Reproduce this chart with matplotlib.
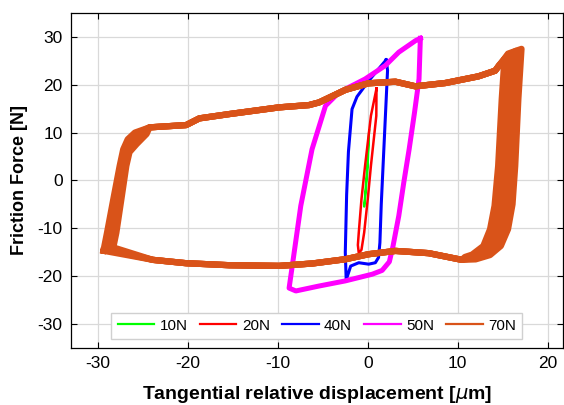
import matplotlib
matplotlib.use("Agg")
import matplotlib.pyplot as plt

plt.rcParams['font.family'] = ['Liberation Sans', 'DejaVu Sans']
plt.rcParams['axes.unicode_minus'] = False

# 10N loop
x_10 = [0.15, 0.0, -0.25, -0.4, -0.3, -0.05, 0.15]
y_10 = [10.5, 3.0, -3.0, -5.5, -3.0, 3.0, 10.5]

# 20N loop
x_20 = [0.97, 0.95, 0.35, 0.0, -0.4, -0.7, -1.0, -1.1, -1.0, -0.7, -0.3, 0.35, 0.97]
y_20 = [19.2, 13.5, 3.05, -3.9, -10.9, -14.5, -15.2, -13.5, -10.9, -3.9, 3.05, 13.5, 19.2]

# 40N loop
x_40 = [2.05, 2.2, 2.0, 1.75, 1.5, 1.35, 1.2, 0.84, 0.1, -1.0, -1.9, -2.4,
        -2.5, -2.35, -2.15, -1.75, -1.2, 0.1, 1.2, 2.05]
y_40 = [25.2, 23.0, 15.0, 5.0, -5.0, -13.0, -16.1, -17.2, -17.5, -17.2, -17.9, -20.8,
        -15.0, -3.0, 6.0, 14.9, 17.5, 20.8, 23.3, 25.2]

# 50N loop
x_50 = [5.85, 5.7, 5.2, 4.6, 4.0, 3.45, 2.8, 2.4, 1.6, 0.5, -2.5, -5.5, -8.0, -8.75,
        -8.4, -7.45, -6.2, -4.7, -3.2, -0.3, 1.95, 3.45, 5.3, 5.85]
y_50 = [29.7, 21.2, 14.2, 6.5, -0.5, -7.4, -13.8, -17.0, -18.8, -19.6, -21.0, -22.1, -23.1, -22.5,
        -17.9, -5.3, 6.5, 15.6, 18.4, 21.2, 24.0, 26.8, 29.2, 29.7]

# 70N: shared top and bottom edges, four cycles with their own sides
top_x = [-24.27, -20.2, -18.73, -15.4, -9.86, -6.53, -5.42, -2.46, 0.09, 3.08, 5.3, 8.63, 12.32, 14.17]
top_y = [11.09, 11.57, 12.97, 13.87, 15.27, 15.75, 16.3, 18.95, 20.3, 20.63, 19.67, 20.36, 21.76, 22.93]
bot_x = [10.47, 6.77, 3.08, 0.09, -2.46, -6.16, -9.86, -15.4, -20.2, -23.9]
bot_y = [-16.6, -15.2, -14.73, -15.42, -16.46, -17.36, -17.86, -17.72, -17.3, -16.6]

left_x = [
    [-29.4, -29.0, -28.3, -27.6, -27.2, -26.7, -25.9],
    [-29.0, -28.7, -28.0, -27.35, -26.95, -26.4, -25.5],
    [-28.7, -28.3, -27.7, -27.1, -26.7, -26.1, -25.0],
    [-28.3, -27.96, -27.4, -26.85, -26.5, -25.7, -24.6],
]
left_y = [
    [-14.7, -10.9, -3.9, 3.0, 6.5, 8.6, 10.0],
    [-14.5, -10.9, -3.9, 3.0, 6.3, 8.4, 10.0],
    [-14.3, -10.9, -3.9, 3.0, 6.1, 8.1, 9.9],
    [-14.0, -10.9, -3.9, 3.05, 5.9, 7.6, 9.7],
]
right_x = [
    [14.7, 15.6, 17.1, 16.75, 16.4, 16.1, 15.6, 14.8, 13.6, 12.0],
    [14.7, 15.6, 16.5, 16.2, 15.8, 15.5, 15.0, 14.2, 13.0, 11.5],
    [14.6, 15.3, 15.8, 15.6, 15.1, 14.8, 14.3, 13.5, 12.3, 11.0],
    [14.6, 15.1, 15.2, 14.9, 14.5, 14.1, 13.6, 12.85, 11.6, 10.8],
]
right_y = [
    [24.2, 26.5, 27.5, 17.0, 3.0, -5.0, -10.2, -13.7, -15.6, -16.5],
    [24.2, 26.3, 27.1, 17.0, 3.0, -5.0, -10.2, -13.7, -15.6, -16.3],
    [24.1, 25.6, 26.4, 17.0, 3.0, -5.0, -10.2, -13.7, -15.6, -16.2],
    [24.0, 25.0, 25.4, 17.0, 3.0, -5.3, -10.2, -13.7, -15.5, -16.0],
]

orange = '#d95319'

fig = plt.figure(figsize=(5.64, 4.05), dpi=100)
ax = fig.add_axes([0.126, 0.141, 0.872, 0.827])

ax.plot(x_10, y_10, color='#00ff00', lw=1.5, label='10N')
ax.plot(x_20, y_20, color='#ff0000', lw=1.8, label='20N')
ax.plot(x_40, y_40, color='#0000ff', lw=2.2, label='40N')
ax.plot(x_50, y_50, color='#ff00ff', lw=3.6, label='50N')
for i in range(4):
    cx = left_x[i] + top_x + right_x[i] + bot_x + left_x[i][:1]
    cy = left_y[i] + top_y + right_y[i] + bot_y + left_y[i][:1]
    ax.plot(cx, cy, color=orange, lw=4.5, solid_joinstyle='round',
            label='70N' if i == 0 else None)
# the overlapping cycles merge into solid bands on both sides
ax.fill(right_x[0] + right_x[3][::-1], right_y[0] + right_y[3][::-1], color=orange, lw=0)
ax.fill(left_x[0] + left_x[3][::-1], left_y[0] + left_y[3][::-1], color=orange, lw=0)

ax.set_xlim(-33, 21.7)
ax.set_ylim(-35, 35)
ax.set_xticks([-30, -20, -10, 0, 10, 20])
ax.set_yticks([-30, -20, -10, 0, 10, 20, 30])
ax.grid(True, color='#d9d9d9', lw=0.9)
ax.set_axisbelow(True)
ax.tick_params(direction='in', top=True, right=True, length=4, width=0.8,
               labelsize=12.5, pad=6)
for s in ax.spines.values():
    s.set_linewidth(0.9)

ax.set_xlabel(r'Tangential relative displacement [$\mu$m]', fontsize=14,
              fontweight='bold', labelpad=9)
ax.set_ylabel('Friction Force [N]', fontsize=13, fontweight='bold', labelpad=7)

leg = ax.legend(loc='lower center', ncol=5, fontsize=11, fancybox=False,
                edgecolor='#d0d0d0', framealpha=1, handlelength=2.4,
                handletextpad=0.35, columnspacing=0.8, borderaxespad=0.6)
for l in leg.get_lines():
    l.set_linewidth(1.6)

fig.savefig('out.png', dpi=100)
